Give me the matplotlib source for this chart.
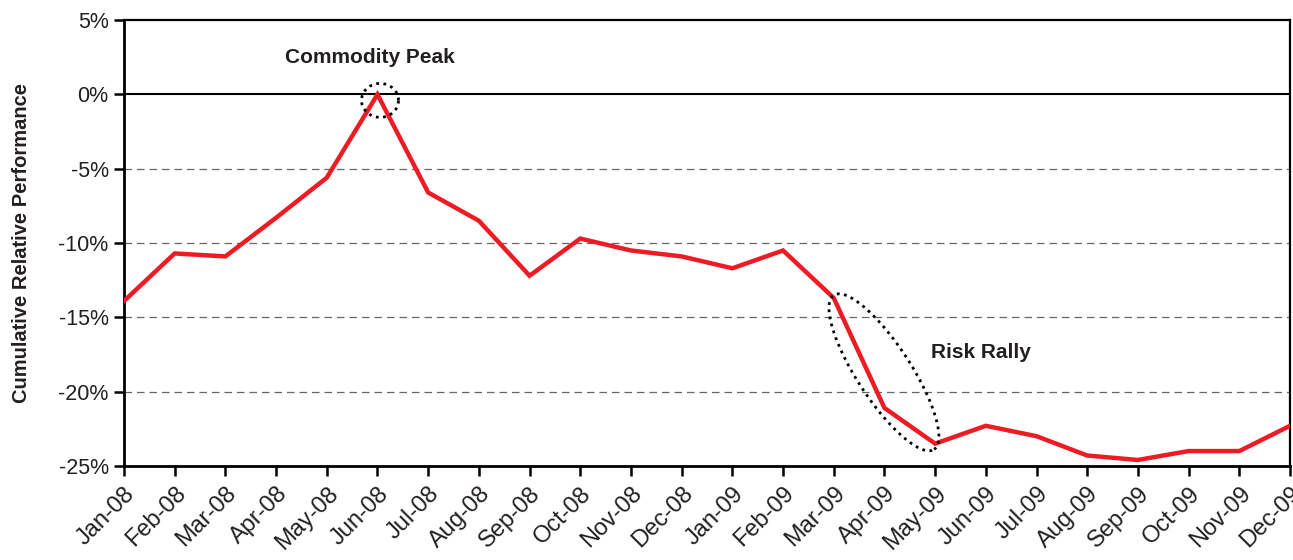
import numpy as np
import matplotlib
matplotlib.use("Agg")
import matplotlib.pyplot as plt
import matplotlib.ticker as mticker

plt.rcParams['font.family'] = ['Liberation Sans', 'DejaVu Sans']

MONTHS = ["Jan-08", "Feb-08", "Mar-08", "Apr-08", "May-08", "Jun-08", "Jul-08", "Aug-08",
          "Sep-08", "Oct-08", "Nov-08", "Dec-08", "Jan-09", "Feb-09", "Mar-09", "Apr-09",
          "May-09", "Jun-09", "Jul-09", "Aug-09", "Sep-09", "Oct-09", "Nov-09", "Dec-09"]
PERF = [-13.9, -10.7, -10.9, -8.3, -5.6, 0.0, -6.6, -8.5,
        -12.2, -9.7, -10.5, -10.9, -11.7, -10.5, -13.7, -21.1,
        -23.5, -22.3, -23.0, -24.3, -24.6, -24.0, -24.0, -22.3]
Y_TICKS = [5, 0, -5, -10, -15, -20, -25]

TXT = "#231F20"

fig = plt.figure(figsize=(12.93, 5.6), dpi=100)
ax = fig.add_axes([0.0959, 0.168, 0.9018, 0.796])

x = np.arange(len(MONTHS))

# gridlines
for v in Y_TICKS:
    if v == 0:
        ax.axhline(v, color="black", lw=1.5, zorder=1)
    elif v in (-5, -10, -15, -20):
        ax.axhline(v, color="#666666", lw=0.9, ls=(0, (6, 4)), zorder=1)

ax.plot(x, PERF, color="#ED1C24", lw=3.2, zorder=3, solid_joinstyle="miter")

ax.set_xlim(0, len(MONTHS) - 1)
ax.set_ylim(-25, 5)
ax.set_yticks(Y_TICKS)
ax.yaxis.set_major_formatter(mticker.FuncFormatter(lambda v, _p: f"{v:.0f}%"))
ax.set_xticks(x)
ax.set_xticklabels(MONTHS, rotation=45, ha="right", rotation_mode="anchor")
ax.tick_params(axis="both", labelcolor=TXT, color="black",
               length=7, width=1.8, direction="out")
ax.tick_params(axis="x", labelsize=17, pad=5)
ax.tick_params(axis="y", labelsize=15.5, pad=4)

for s in ["left", "bottom"]:
    ax.spines[s].set_linewidth(2.0)
for s in ["top", "right"]:
    ax.spines[s].set_linewidth(1.6)

ax.set_ylabel("Cumulative Relative Performance", fontsize=14.5, fontweight="bold",
              color=TXT, labelpad=20)

# annotations (ellipses built in pixel units, converted to data units)
px_x = 1166 / 23.0   # pixels per month
px_y = 446 / 30.0    # pixels per percent

t = np.linspace(0, 2 * np.pi, 200)
# commodity peak circle
ax.plot(5 + 0.05 + 18.5 * np.cos(t) / px_x, -0.4 + 17 * np.sin(t) / px_y,
        color="black", lw=2.0, ls=(0, (1, 1.6)), zorder=4, clip_on=False)

# risk rally ellipse
cx, cy = 14.99, -18.7
ang = np.deg2rad(-57)
a, b = 92, 27
ex = a * np.cos(t) * np.cos(ang) - b * np.sin(t) * np.sin(ang)
ey = a * np.cos(t) * np.sin(ang) + b * np.sin(t) * np.cos(ang)
ax.plot(cx + ex / px_x, cy + ey / px_y, color="black", lw=2.0, ls=(0, (1, 1.6)), zorder=4)

ax.text(4.85, 2.5, "Commodity Peak", ha="center", va="center", fontsize=15,
        fontweight="bold", color=TXT)
ax.text(16.9, -17.35, "Risk Rally", ha="center", va="center", fontsize=15,
        fontweight="bold", color=TXT)

fig.savefig("out.png", dpi=100)
